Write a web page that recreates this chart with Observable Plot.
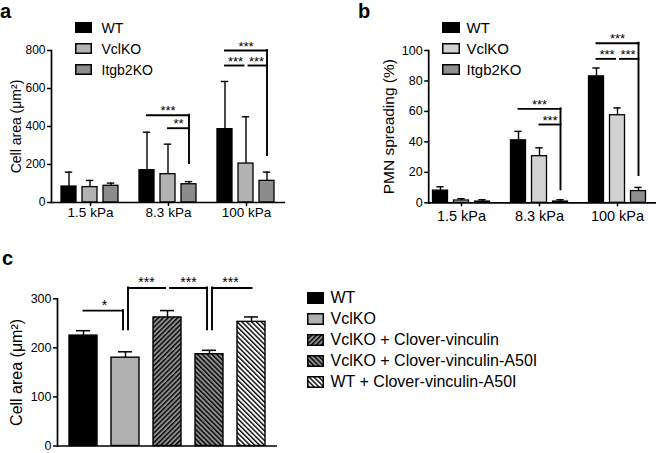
<!DOCTYPE html>
<html>
<head>
<meta charset="utf-8">
<script src="https://cdn.jsdelivr.net/npm/d3@7"></script>
<script src="https://cdn.jsdelivr.net/npm/@observablehq/plot@0.6"></script>
<style>
  html, body { margin: 0; padding: 0; background: #fff; overflow: hidden; }
  #root { position: relative; width: 656px; height: 453px; overflow: hidden;
          font-family: "Liberation Sans", Arial, Helvetica, sans-serif; color: #000; }
  .panel { position: absolute; }
  .letter { position: absolute; font-weight: bold; font-size: 20px; line-height: normal; }
  .legend { position: absolute; }
  .legend .row { display: flex; align-items: center; height: 21px; white-space: nowrap; }
  .legend .sw { flex: none; display: block; }
</style>
</head>
<body>
<svg width="0" height="0" style="position:absolute">
  <defs>
    <pattern id="hatchFwdGray" patternUnits="userSpaceOnUse" width="3.4" height="3.4" patternTransform="rotate(45)">
      <rect width="3.4" height="3.4" fill="#8f8f8f"></rect>
      <rect width="1.4" height="3.4" fill="#000"></rect>
    </pattern>
    <pattern id="hatchBackGray" patternUnits="userSpaceOnUse" width="3.4" height="3.4" patternTransform="rotate(-45)">
      <rect width="3.4" height="3.4" fill="#8f8f8f"></rect>
      <rect width="1.4" height="3.4" fill="#000"></rect>
    </pattern>
    <pattern id="hatchBackWhite" patternUnits="userSpaceOnUse" width="3.4" height="3.4" patternTransform="rotate(-45)">
      <rect width="3.4" height="3.4" fill="#fff"></rect>
      <rect width="1.4" height="3.4" fill="#000"></rect>
    </pattern>
  </defs>
</svg>
<div id="root"></div>
<script>
// ---------------- data ----------------
const stiffness = ["1.5 kPa", "8.3 kPa", "100 kPa"];
const genotypes = ["WT", "VclKO", "Itgb2KO"];

// panel a: cell area (µm²), mean and SD per stiffness
const areaWT      = [84, 170, 386];
const areaWTsd    = [76, 200, 251];
const areaVcl     = [81, 149, 205];
const areaVclSd   = [35, 158, 246];
const areaItgb2   = [88, 96, 114];
const areaItgb2Sd = [14, 14, 46];
const areaTicks   = [0, 200, 400, 600, 800];

// panel b: PMN spreading (%)
const spreadWT      = [8, 41, 83];
const spreadWTsd    = [2.5, 5.9, 5.5];
const spreadVcl     = [1.5, 30.6, 57.5];
const spreadVclSd   = [1.2, 5.5, 4.8];
const spreadItgb2   = [0.8, 0.8, 7.7];
const spreadItgb2Sd = [1.2, 1.2, 2.4];
const spreadTicks   = [0, 20, 40, 60, 80, 100];

// panel c: rescue experiment, cell area (µm²)
const conditions = ["WT", "VclKO", "VclKO + Clover-vinculin", "VclKO + Clover-vinculin-A50I", "WT + Clover-vinculin-A50I"];
const rescueMean = [225, 180, 262, 187, 253];
const rescueSd   = [10, 12, 14, 8, 10];
const rescueTicks = [0, 100, 200, 300];

// significance brackets (heights in data units)
const bracketsA = [
  {group: "8.3 kPa", from: "WT", to: "Itgb2KO", y: 459, label: "***", drop: "to", dropTo: 205},
  {group: "8.3 kPa", from: "VclKO", to: "Itgb2KO", y: 391, label: "**"},
  {group: "100 kPa", from: "WT", to: "Itgb2KO", y: 800, label: "***", drop: "to", dropTo: 247},
  {group: "100 kPa", from: "WT", to: "VclKO", y: 721, label: "***"},
  {group: "100 kPa", from: "VclKO", to: "Itgb2KO", y: 721, label: "***"}
];
const bracketsB = [
  {group: "8.3 kPa", from: "WT", to: "Itgb2KO", y: 61.7, label: "***", drop: "to", dropTo: 8.5},
  {group: "8.3 kPa", from: "VclKO", to: "Itgb2KO", y: 51.4, label: "***"},
  {group: "100 kPa", from: "WT", to: "Itgb2KO", y: 104.8, label: "***", drop: "to", dropTo: 17.9},
  {group: "100 kPa", from: "WT", to: "VclKO", y: 94.5, label: "***"},
  {group: "100 kPa", from: "VclKO", to: "Itgb2KO", y: 94.5, label: "***"}
];
const bracketsC = [
  {from: "WT", to: "VclKO", y: 276, label: "*", drop: "to", dropTo: 237},
  {from: "VclKO", to: "VclKO + Clover-vinculin", y: 322, label: "***", drop: "from", dropTo: 237},
  {from: "VclKO + Clover-vinculin", to: "VclKO + Clover-vinculin-A50I", y: 322, label: "***", drop: "to", dropTo: 237},
  {from: "VclKO + Clover-vinculin-A50I", to: "WT + Clover-vinculin-A50I", y: 322, label: "***", drop: "from", dropTo: 237}
];

// ---------------- styling ----------------
const FONT = '"Liberation Sans", Arial, Helvetica, sans-serif';
const fillsA = ["#000000", "#b3b3b3", "#8c8c8c"];
const fillsB = ["#000000", "#d2d2d2", "#8e8e8e"];
const fillsC = ["#000000", "#b0b0b0", "url(#hatchFwdGray)", "url(#hatchBackGray)", "url(#hatchBackWhite)"];

function groupedRows(means, sds) {
  return stiffness.flatMap((g, i) => genotypes.map((s, j) => ({group: g, series: s, mean: means[j][i], sd: sds[j][i]})));
}

function midRender(index, scales, values, dimensions, context, next) {
  const X = values.x, X2 = values.xEnd;
  const M = Float64Array.from(X, (x, i) => (x + X2[i]) / 2);
  return next(index, scales, {...values, x: M}, dimensions, context);
}

function bracketMarks(brackets, {faceted, gap, fontSize, dy, sw = 1.9}) {
  const dropBar = (o) => (o.drop ? o[o.drop] : null);
  const shares = (b, bar) => brackets.some((o) => o !== b && o.group === b.group &&
    (o.from === bar || o.to === bar) && (o.y === b.y || (dropBar(o) === bar && dropBar(b) === bar)));
  const fo = faceted ? {fx: "group"} : {};
  const marks = [];
  for (const b of brackets) {
    const iS = shares(b, b.from) ? gap : 0;
    const iE = shares(b, b.to) ? gap : 0;
    marks.push(Plot.arrow([b], {...fo, x1: "from", x2: "to", y1: "y", y2: "y", insetStart: iS, insetEnd: iE,
      headLength: 0, stroke: "#000", strokeWidth: sw, strokeLinecap: "square"}));
    if (b.drop) {
      const atFrom = b.drop === "from";
      marks.push(Plot.ruleX([b], {...fo, x: b.drop, y1: "y", y2: "dropTo", dx: atFrom ? iS : -iE,
        stroke: "#000", strokeWidth: sw, strokeLinecap: "square"}));
    }
    marks.push(Plot.text([b], {...fo, x: "from", y: "y", text: "label", channels: {xEnd: {value: "to", scale: "x"}},
      render: midRender, fontSize, dy, lineAnchor: "middle", fill: "#000"}));
  }
  return marks;
}

function groupedPanel(o) {
  const rows = o.rows;
  return Plot.plot({
    width: o.width, height: o.height,
    marginLeft: o.marginLeft, marginRight: o.marginRight, marginTop: o.marginTop, marginBottom: o.marginBottom,
    style: {fontFamily: FONT, color: "#000", background: "transparent", overflow: "visible"},
    fx: {domain: stiffness, padding: 0},
    x: {domain: genotypes, paddingInner: o.padInner, paddingOuter: o.padOuter, axis: null},
    y: {domain: [0, o.yMax]},
    color: {domain: genotypes, range: o.fills},
    marks: [
      Plot.barY(rows, {fx: "group", x: "series", y: "mean", fill: "series", stroke: "#000", strokeWidth: 1.3}),
      Plot.ruleX(rows, {fx: "group", x: "series", y1: "mean", y2: (d) => d.mean + d.sd, stroke: "#000", strokeWidth: 1.4}),
      Plot.tickY(rows, {fx: "group", x: "series", y: (d) => d.mean + d.sd, stroke: "#000", strokeWidth: 1.4, inset: o.capInset}),
      Plot.ruleY(stiffness.slice(0, 1), {fx: (d) => d, y: () => 0, insetLeft: o.yDx, stroke: "#000", strokeWidth: 1.7}),
      Plot.ruleY(stiffness.slice(1), {fx: (d) => d, y: () => 0, stroke: "#000", strokeWidth: 1.7}),
      Plot.frame({anchor: "left", facetAnchor: "left", dx: o.yDx, stroke: "#000", strokeWidth: 1.7}),
      Plot.axisY({ticks: o.ticks, tickSize: 4, tickPadding: 2, fontSize: o.tickFont, strokeWidth: 1.5, label: null, dx: o.yDx}),
      Plot.axisY({ticks: [], tickSize: 0, label: o.label, labelAnchor: "center", labelArrow: "none",
        labelOffset: o.labelOffset, fontSize: o.labelFont}),
      Plot.axisFx({anchor: "bottom", tickSize: 4, tickPadding: o.xTickPad, fontSize: o.xFont, label: null, strokeWidth: 1.5}),
      ...bracketMarks(o.brackets, {faceted: true, gap: 2.5, fontSize: o.starFont, dy: o.starDy})
    ]
  });
}

const root = document.getElementById("root");
function place(el, left, top) {
  el.classList.add("panel");
  el.style.left = left + "px";
  el.style.top = top + "px";
  root.appendChild(el);
}

// panel a
const rowsA = groupedRows([areaWT, areaVcl, areaItgb2], [areaWTsd, areaVclSd, areaItgb2Sd]);
place(groupedPanel({
  rows: rowsA, brackets: bracketsA, yMax: 800, ticks: areaTicks, label: "Cell area (μm²)", fills: fillsA,
  width: 330, height: 225, marginLeft: 50, marginRight: 45, marginTop: 50, marginBottom: 23,
  padInner: 0.28, padOuter: 0.454, yDx: 0, capInset: 3.8,
  tickFont: 12, xFont: 13.5, xTickPad: 1, labelFont: 14, labelOffset: 40, starFont: 13, starDy: -4
}), 0, 0);

// panel b
const rowsB = groupedRows([spreadWT, spreadVcl, spreadItgb2], [spreadWTsd, spreadVclSd, spreadItgb2Sd]);
place(groupedPanel({
  rows: rowsB, brackets: bracketsB, yMax: 100, ticks: spreadTicks, label: "PMN spreading (%)", fills: fillsB,
  width: 330, height: 225, marginLeft: 90.5, marginRight: 3, marginTop: 50, marginBottom: 22.7,
  padInner: 0.287, padOuter: 0.469, yDx: 6.2, capInset: 3.8,
  tickFont: 12.5, xFont: 14.5, xTickPad: 4, labelFont: 15.5, labelOffset: 40, starFont: 13, starDy: -4
}), 330, 0);

// panel c
const rowsC = conditions.map((c, i) => ({condition: c, mean: rescueMean[i], sd: rescueSd[i]}));
place(Plot.plot({
  width: 300, height: 223, marginLeft: 57, marginRight: 23, marginTop: 68.3, marginBottom: 7.5,
  style: {fontFamily: FONT, color: "#000", background: "transparent", overflow: "visible"},
  x: {domain: conditions, paddingInner: 0.324, paddingOuter: 0.277, axis: null},
  y: {domain: [0, 300]},
  color: {domain: conditions, range: fillsC},
  marks: [
    Plot.barY(rowsC, {x: "condition", y: "mean", fill: "condition", stroke: "#000", strokeWidth: 1.4}),
    Plot.ruleX(rowsC, {x: "condition", y1: "mean", y2: (d) => d.mean + d.sd, stroke: "#000", strokeWidth: 1.5}),
    Plot.tickY(rowsC, {x: "condition", y: (d) => d.mean + d.sd, stroke: "#000", strokeWidth: 1.5, inset: 7}),
    Plot.ruleY([0], {stroke: "#000", strokeWidth: 1.7}),
    Plot.frame({anchor: "left", stroke: "#000", strokeWidth: 1.7}),
    Plot.axisY({ticks: rescueTicks, tickSize: 4, tickPadding: 2, fontSize: 12.5, strokeWidth: 1.5, label: null}),
    Plot.axisY({ticks: [], tickSize: 0, label: "Cell area (μm²)", labelAnchor: "center", labelArrow: "none",
      labelOffset: 47, fontSize: 16}),
    ...bracketMarks(bracketsC, {faceted: false, gap: 2.5, fontSize: 14, dy: -5})
  ]
}), 0, 230);

// panel letters
for (const [t, l, tp] of [["a", 0, 0], ["b", 358, 0], ["c", 2, 247]]) {
  const d = document.createElement("div");
  d.className = "letter";
  d.textContent = t;
  d.style.left = l + "px";
  d.style.top = tp + "px";
  root.appendChild(d);
}

// legends
function legend(labels, fills, {left, top, swW, swH, gap, fontSize}) {
  const box = document.createElement("div");
  box.className = "legend";
  box.style.left = left + "px";
  box.style.top = top + "px";
  box.style.fontSize = fontSize + "px";
  labels.forEach((lab, i) => {
    const row = document.createElement("div");
    row.className = "row";
    const ns = "http://www.w3.org/2000/svg";
    const sw = document.createElementNS(ns, "svg");
    sw.setAttribute("width", swW);
    sw.setAttribute("height", swH);
    sw.setAttribute("class", "sw");
    const r = document.createElementNS(ns, "rect");
    r.setAttribute("x", 0.75); r.setAttribute("y", 0.75);
    r.setAttribute("width", swW - 1.5); r.setAttribute("height", swH - 1.5);
    r.setAttribute("fill", fills[i]); r.setAttribute("stroke", "#000"); r.setAttribute("stroke-width", 1.5);
    sw.appendChild(r);
    const tx = document.createElement("span");
    tx.textContent = lab;
    tx.style.marginLeft = gap + "px";
    row.appendChild(sw);
    row.appendChild(tx);
    box.appendChild(row);
  });
  root.appendChild(box);
}
legend(genotypes, fillsA, {left: 75, top: 17, swW: 17, swH: 11, gap: 9.5, fontSize: 14});
legend(genotypes, fillsB, {left: 442, top: 16.5, swW: 18, swH: 11, gap: 6.5, fontSize: 15});
legend(conditions, fillsC, {left: 307, top: 287, swW: 17, swH: 12, gap: 6.5, fontSize: 16});
</script>
</body>
</html>
